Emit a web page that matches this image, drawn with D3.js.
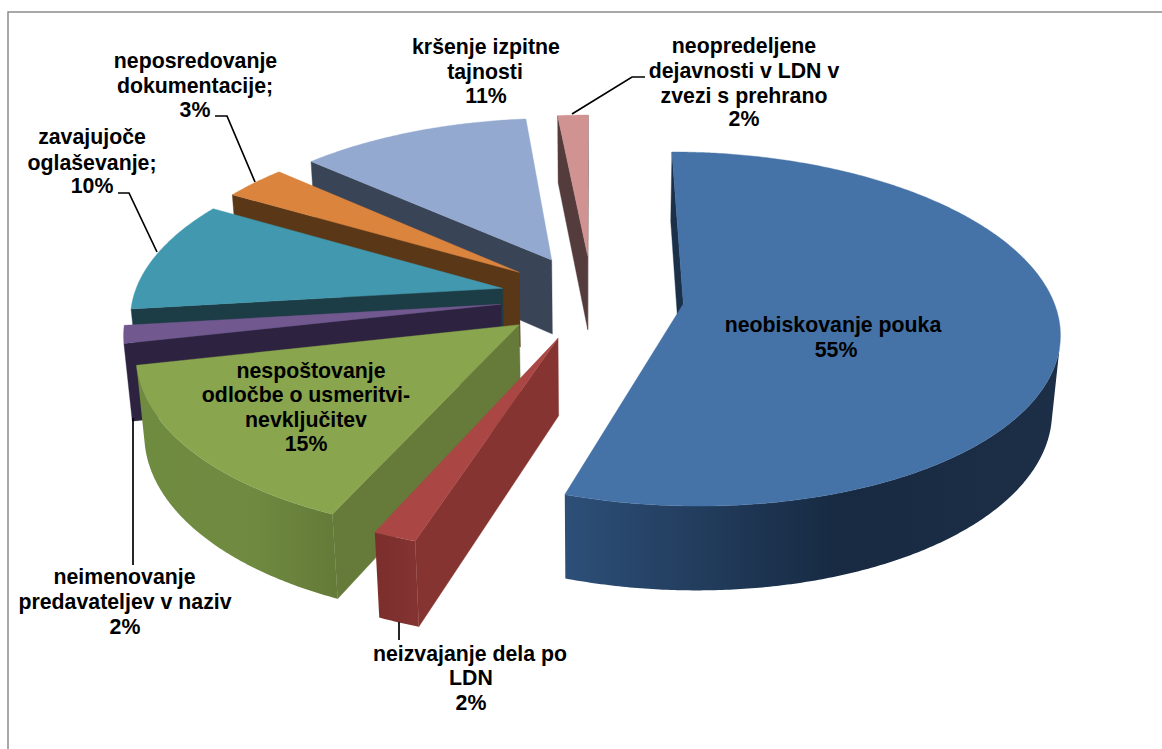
<!DOCTYPE html>
<html><head><meta charset="utf-8">
<script src="https://cdnjs.cloudflare.com/ajax/libs/d3/7.8.5/d3.min.js"></script>
<style>html,body{margin:0;padding:0;background:#fff;overflow:hidden}
text{font-family:"Liberation Sans",Arial,sans-serif;font-weight:bold;font-size:21.3px;fill:#000;text-anchor:middle}</style>
</head><body><svg id="c" width="1162" height="749"></svg>
<script>
const categories=["neobiskovanje pouka","neizvajanje dela po LDN","nespoštovanje odločbe o usmeritvi-nevključitev","neimenovanje predavateljev v naziv","zavajujoče oglaševanje","neposredovanje dokumentacije","kršenje izpitne tajnosti","neopredeljene dejavnosti v LDN v zvezi s prehrano"];
const values=[54.9,1.6,14.85,1.6,10.3,3.2,11.8,1.55];
const topColors=["#4572a7","#aa4643","#89a54e","#71588f","#4198af","#db843d","#93a9cf","#d09392"];
const wallStops=[["#2d4f78","#172a42","#1c2f47"],["#7b2e2c","#7f312f","#853432"],["#6f8b40","#708b41","#647a38"],["#2d2340","#2d2340","#2d2340"],["#1c3c46","#1c3c46","#1c3c46"],["#5a3716","#5a3716","#5a3716"],["#3a4457","#3a4457","#3a4457"],["#553c3c","#553c3c","#553c3c"]];
const sideColors=["#1b3049","#853432","#667a39","#2d2340","#1c3c46","#5a3716","#3a4457","#553c3c"];
const drawOrder=[7,6,5,4,3,2,0,1];
const labelLines=[["neobiskovanje pouka","55%"],["neizvajanje dela po","LDN","2%"],["nespoštovanje","odločbe o usmeritvi-","nevključitev","15%"],["neimenovanje","predavateljev v naziv","2%"],["zavajujoče","oglaševanje;","10%"],["neposredovanje","dokumentacije;","3%"],["kršenje izpitne","tajnosti","11%"],["neopredeljene","dejavnosti v LDN v","zvezi s prehrano","2%"]];
// layout
const labelX=[[833,836],[470,471,471],[311,306,306,306],[124.5,125,125],[92,92,92],[195.5,195,195],[486,485,486],[744,744,744,744]];
const labelY=[[332,357],[661,685,710],[378,402,427,451],[584,609,634],[144,170,193],[68,93,117],[54,79,103],[53,78,103,126]];
const leaders=[null,[[399,622],[399,640]],null,[[133,418],[133,565]],[[157,252],[129,193],[118,193]],[[255,182],[227,116],[215,116]],null,[[572,114],[632,77],[645,77]]];
const C={x:592,y:297},R=369,EXPL=92,H=87,TILT=27.7*Math.PI/180,D=2300,START=0;
const rad=Math.PI/180;
const sinA=Math.sin(TILT),cosA=Math.cos(TILT);
function proj(p){const x=p[0],y=p[1],z=p[2];const yc=y*sinA-z*cosA,dc=D-y*cosA-z*sinA;return [C.x+D*x/dc,C.y+D*yc/dc];}
const cam=[0,D*cosA,D*sinA];
const svg=d3.select("#c");
const defs=svg.append("defs");
svg.append("rect").attr("x",8).attr("y",12).attr("width",1180).attr("height",780).attr("fill","#fff").attr("stroke","#8c8c8c").attr("stroke-width",1.5);
const pie=d3.pie().sort(null).startAngle(START*rad).endAngle((START+360)*rad).padAngle(0);
const arcs=pie(values);
const line=d3.line();
const dirv=t=>[Math.sin(t),-Math.cos(t)];
function faces(n,P){return n[0]*(cam[0]-P[0])+n[1]*(cam[1]-P[1])>0;}
function slice(i){
  const a=arcs[i],mid=(a.startAngle+a.endAngle)/2,m=dirv(mid);
  const ox=m[0]*EXPL,oy=m[1]*EXPL;
  const rim=t=>{const d=dirv(t);return [ox+R*d[0],oy+R*d[1]];};
  const g=svg.append("g");
  const apex=[ox,oy];
  const quad=(p,q,col)=>{const dd=line([proj([p[0],p[1],0]),proj([q[0],q[1],0]),proj([q[0],q[1],-H]),proj([p[0],p[1],-H])])+"Z";
    g.append("path").attr("d",dd).attr("fill",col).attr("stroke",col).attr("stroke-width",.4);};
  const s=rim(a.startAngle),e=rim(a.endAngle);
  const ns=dirv(a.startAngle-Math.PI/2),ne=dirv(a.endAngle+Math.PI/2);
  if(faces(ns,apex))quad(apex,s,sideColors[i]);
  if(faces(ne,apex))quad(apex,e,sideColors[i]);
  const ts=d3.range(a.startAngle,a.endAngle,rad/2).concat([a.endAngle]);
  const vis=ts.filter(t=>faces(dirv(t),rim(t)));
  if(vis.length>1){
    const up=vis.map(t=>{const r=rim(t);return proj([r[0],r[1],0]);}),lo=vis.map(t=>{const r=rim(t);return proj([r[0],r[1],-H]);}).reverse();
    const xs=up.map(p=>p[0]).concat(lo.map(p=>p[0]));
    const id="w"+i,gr=defs.append("linearGradient").attr("id",id).attr("gradientUnits","userSpaceOnUse")
      .attr("x1",d3.min(xs)).attr("x2",d3.max(xs)).attr("y1",0).attr("y2",0);
    wallStops[i].forEach((c,k)=>gr.append("stop").attr("offset",[0,.55,1][k]).attr("stop-color",c));
    g.append("path").attr("d",line(up.concat(lo))+"Z").attr("fill",`url(#${id})`);
  }
  const topPts=[proj([apex[0],apex[1],0])].concat(ts.map(t=>{const r=rim(t);return proj([r[0],r[1],0]);}));
  g.append("path").attr("d",line(topPts)+"Z").attr("fill",topColors[i]).attr("stroke",topColors[i]).attr("stroke-width",.4);
}
drawOrder.forEach(v=>slice(v));
leaders.forEach(l=>{if(l)svg.append("path").attr("d",line(l)).attr("fill","none").attr("stroke","#000").attr("stroke-width",1.7);});
labelLines.forEach((ls,i)=>{
  const t=svg.append("text");
  ls.forEach((s,k)=>t.append("tspan").attr("x",labelX[i][k]).attr("y",labelY[i][k]).text(s));
});
</script></body></html>
